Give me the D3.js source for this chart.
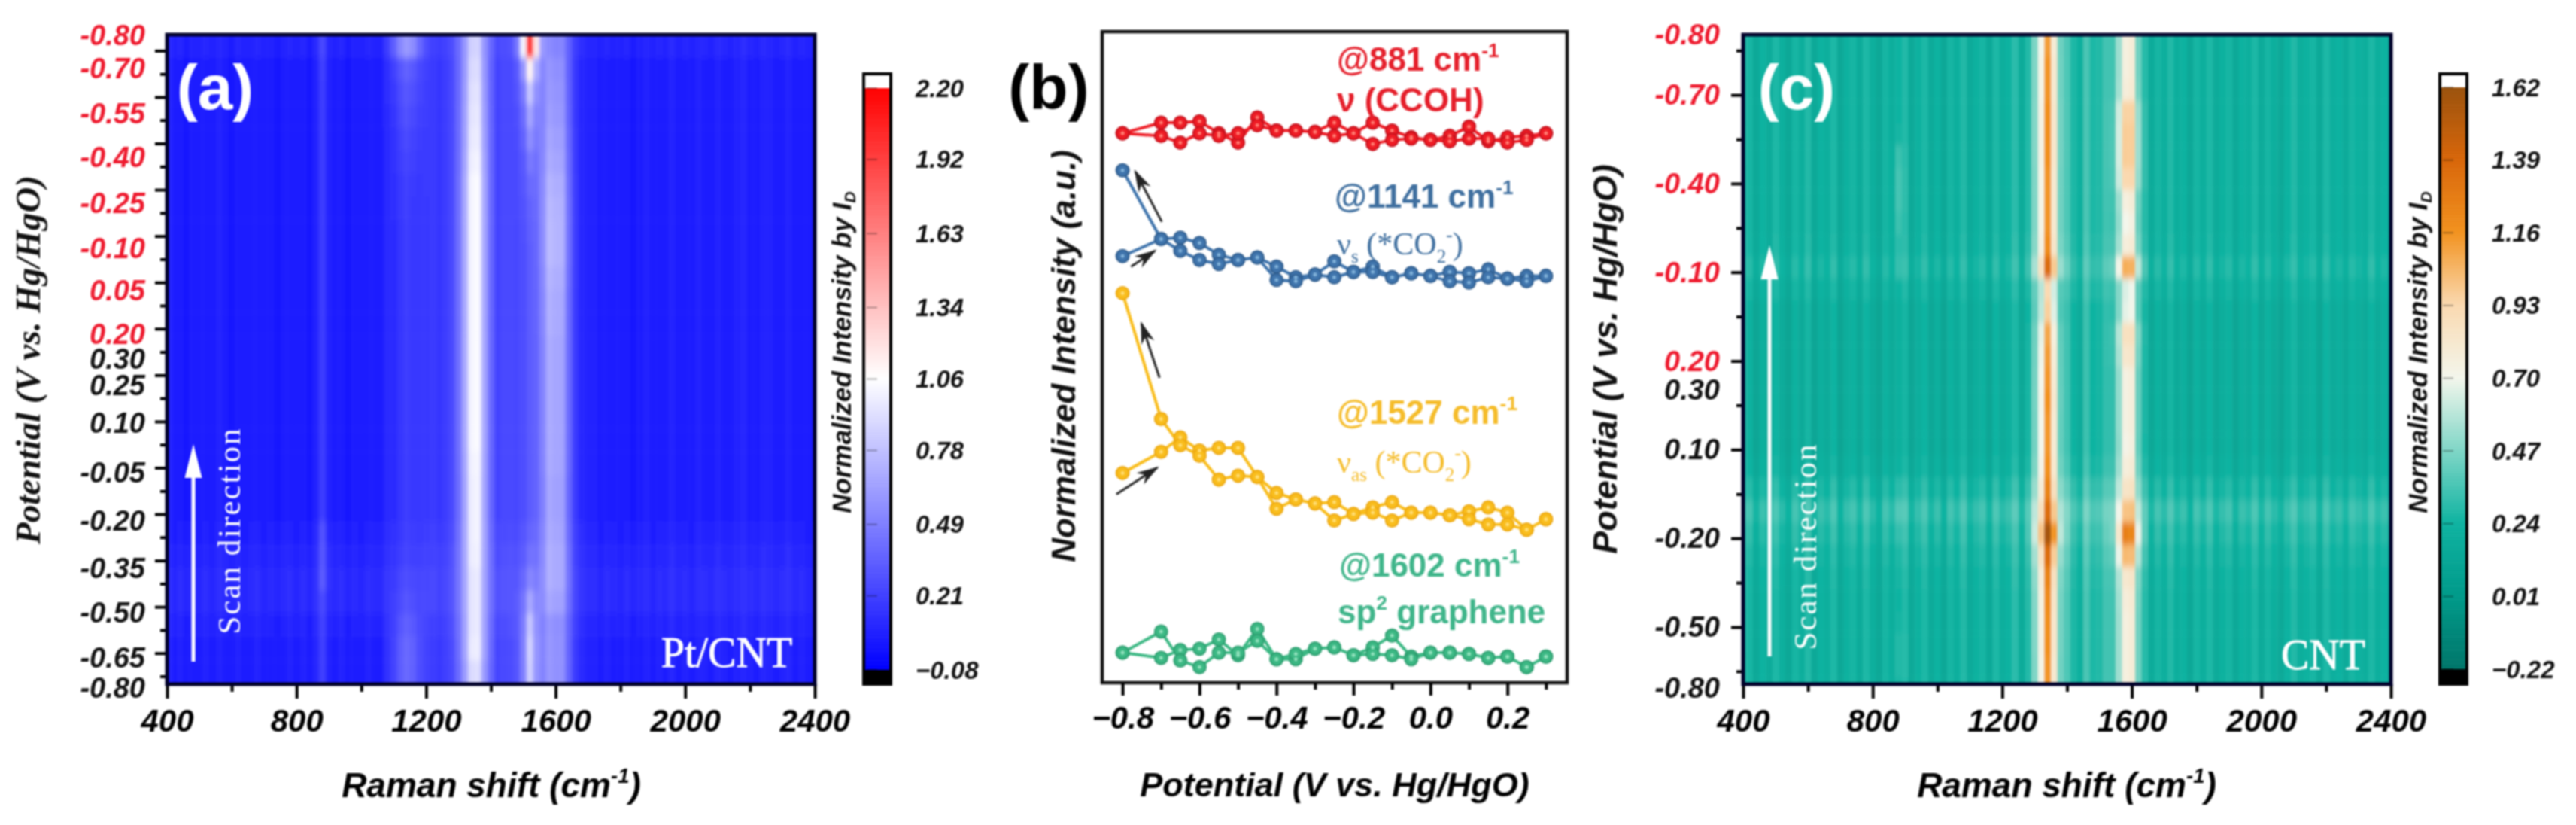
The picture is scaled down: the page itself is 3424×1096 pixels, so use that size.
<!DOCTYPE html>
<html>
<head>
<meta charset="utf-8">
<script src="https://cdn.jsdelivr.net/npm/d3@7"></script>
<style>
  html, body { margin: 0; background: #fff; }
  svg { display: block; filter: blur(0.9px); }
  text { font-family: "Liberation Sans", sans-serif; }
</style>
</head>
<body>
<script>
//----------
// Data
//----------

// panel (a) y axis: labels sit a little off the ticks, so they keep their own scan index
var labelsA = ["-0.80","-0.70","-0.55","-0.40","-0.25","-0.10","0.05","0.20","0.30","0.25","0.10","-0.05","-0.20","-0.35","-0.50","-0.65","-0.80"];
var labelStepsA = [-0.65,0.78,2.73,4.61,6.59,8.54,10.36,12.24,13.31,14.45,16.07,18.21,20.29,22.34,24.25,26.2,27.5];
var redCountA = 8;
var labelsC = ["-0.80","-0.70","-0.40","-0.10","0.20","0.30","0.10","-0.20","-0.50","-0.80"];
var labelStepsC = [-1.36,0,2,4,6,6.66,8,10,12,13.38];
var redCountC = 5;

var ramanTicks = [400,800,1200,1600,2000,2400];
var ramanMinor = [600,1000,1400,1800,2200];
var cbarTicksA = [2.20,1.92,1.63,1.34,1.06,0.78,0.49,0.21,-0.08];
var cbarLabelsA = ["2.20","1.92","1.63","1.34","1.06","0.78","0.49","0.21","\u22120.08"];
var cbarTicksC = [1.62,1.39,1.16,0.93,0.70,0.47,0.24,0.01,-0.22];
var cbarLabelsC = ["1.62","1.39","1.16","0.93","0.70","0.47","0.24","0.01","\u22120.22"];

// colour maps
var stopsA = [-0.08,1.06,2.2];
var coloursA = ["#0000ff","#ffffff","#ff0000"];
var stopsC = [-0.22,0.01,0.24,0.47,0.70,0.93,1.16,1.39,1.62];
var coloursC = ["#00766a","#009a8a","#0fb3a1","#7fd6c6","#f3f6ec","#fad9b0","#f2921f","#d8660a","#9a520d"];

// band shapes, wavenumber against fraction of the band height
var w1350 = [1280,1300,1320,1340,1360,1380,1400];
var p1350 = [0.08,0.22,0.55,1,1,0.55,0.18];
var w1527 = [1480,1500,1520,1540,1560];
var p1527 = [0.1,0.4,1,0.45,0.1];
var w1600 = [1540,1560,1580,1600,1620,1640,1660];
var p1600 = [0.2,0.6,1,1,0.95,0.4,0.1];
var w1141 = [1080,1100,1120,1140,1160,1180,1200];
var p1141 = [0.15,0.5,0.85,1,0.9,0.5,0.15];
var w881 = [860,880,900];
var p881 = [0.2,1,0.2];
var wBroadA = [1060,1080,1100,1120,1140,1160,1180,1200,1220,1240,1260,1280,1300,1320,1340,1360,1380,1400,1420,1440,1460,1480,1500,1520,1540,1560,1580,1600,1620,1640,1660,1680,1700];
var pBroadA = [0.02,0.04,0.06,0.08,0.1,0.1,0.12,0.12,0.12,0.12,0.14,0.16,0.18,0.2,0.2,0.2,0.2,0.2,0.18,0.18,0.2,0.2,0.2,0.2,0.2,0.2,0.2,0.2,0.2,0.16,0.1,0.05,0.02];
var wD = [1280,1300,1320,1340,1360,1380,1400];
var pD = [0.07,0.25,0.6,1,0.75,0.25,0.08];
var wG = [1520,1540,1560,1580,1600,1620,1640];
var pG = [0.04,0.12,0.5,1,0.85,0.4,0.1];
var wBroadC = [1400,1420,1440,1460,1480,1500,1520,1540];
var pBroadC = [0.05,0.07,0.04,0.09,0.05,0.09,0.07,0.07];

// panel (a) row heights, top row first, one row per tick step
var amp1350A = [.58,.65,.68,.7,.72,.75,.78,.78,.78,.78,.78,.78,.78,.78,.78,.78,.78,.78,.76,.75,.75,.73,.7,.65,.65,.68,.72,.65];
var amp1527A = [1.85,.85,.55,.4,.3,.2,.14,.1,.08,.07,.07,.07,.07,.07,.07,.07,.07,.07,.07,.07,.07,.09,.13,.2,.35,.52,.6,.58];
var amp1600A = [.25,.33,.35,.37,.4,.43,.47,.49,.5,.5,.47,.45,.45,.43,.43,.43,.43,.43,.43,.41,.41,.41,.41,.39,.35,.3,.33,.33];
var amp1141A = [.42,.2,.15,.12,.09,.07,.05,.04,.03,.03,.03,.03,.03,.03,.03,.03,.03,.03,.03,.03,.03,.03,.03,.05,.08,.16,.22,.22];
var amp881A = [.14,.14,.12,.12,.12,.12,.12,.12,.12,.12,.12,.12,.12,.12,.12,.12,.12,.12,.12,.12,.12,.2,.2,.2,.12,.12,.12,.12];
var bgA = [.06,.03,.03,.03,.03,.03,.03,.03,.03,.03,.03,.03,.03,.03,.03,.03,.03,.03,.03,.03,.03,.05,.07,.09,.09,.06,.04,.04];

// panel (c) row heights, top row first, two rows per tick step
var ampDC = [.85,.88,.88,.9,.9,.9,.88,.88,.88,.9,1.05,.65,.72,.85,.88,.9,.92,.9,.9,.9,.92,.98,1.25,1.05,.95,.92,.9,.9,.88,.88];
var ampGC = [.6,.6,.62,.8,.82,.82,.78,.6,.55,.6,.88,.5,.55,.75,.7,.62,.62,.62,.6,.62,.65,.75,1.05,.85,.65,.62,.6,.6,.6,.6];
var bgC = [.17,.17,.17,.17,.17,.17,.17,.17,.17,.18,.21,.17,.14,.14,.14,.14,.14,.14,.14,.16,.21,.27,.23,.2,.18,.17,.17,.17,.17,.17];
var streakC = [.01,.01,.01,.01,.02,.1,.12,.12,.1,.06,.05,.01,.01,.01,.01,.01,.01,.01,.01,.01,.03,.05,.03,.01,.01,.01,.02,.05,.05,.02];

// fine vertical stripes, one value per 20 cm-1 column from 400 to 2400
var rippleA = [.02,.01,.03,0,.02,.01,.03,.01,.04,.02,0,.03,.01,.02,.03,.01,.02,0,.02,.03,.01,.03,0,.02,.04,.01,.02,.03,0,.02,.01,.03,.02,0,.03,.01,.02,.03,.01,0,.02,.03,.01,.02,0,.03,.02,.01,.03,0,.02,.01,.03,.02,0,.01,.03,.02,.01,.03,0,.02,.03,.01,.02,.02,.04,.01,.03,.02,.01,.03,0,.02,.04,.01,.03,.02,.05,.02,.03,.01,.04,.03,.02,.05,.03,.02,.04,.06,.03,.02,.05,.04,.02,.03,.05,.02,.03,.01,.02];
var rippleC = [.03,.08,-.02,.06,.0,.1,.03,-.03,.08,.02,.11,-.02,.06,.03,.1,-.03,.05,.08,.0,.1,.03,-.03,.08,.02,.06,.11,-.02,.05,.1,.0,.06,-.03,.08,.03,.11,.0,.05,.08,-.02,.1,.03,.06,.13,.0,.05,.08,.02,.1,-.02,.05,.08,.03,.0,.1,.05,.02,.08,.03,.06,-.02,.1,.03,.06,.0,.08,.03,.11,.02,.06,-.03,.08,.03,.1,.0,.05,.08,-.02,.06,.03,.1,.0,.08,.03,-.02,.06,.11,.02,.05,.08,-.02,.1,.03,.06,.0,.08,.05,.02,.1,.03,.06,.02];

// panel (b), relative intensity at each potential; sweep out and sweep back
var potentials = [-0.8,-0.7,-0.65,-0.6,-0.55,-0.5,-0.45,-0.4,-0.35,-0.3,-0.25,-0.2,-0.15,-0.1,-0.05,0,0.05,0.1,0.15,0.2,0.25,0.3];
var redOut = [2080,2120,2120,2125,2080,2045,2140,2090,2090,2085,2120,2080,2120,2090,2065,2055,2070,2105,2050,2065,2070,2080];
var redBack = [2080,2070,2045,2080,2070,2080,2110,2090,2090,2085,2070,2080,2040,2055,2060,2055,2050,2060,2060,2045,2055,2080];
var blueOut = [1615,1680,1685,1665,1620,1600,1610,1575,1535,1545,1595,1555,1575,1535,1550,1540,1555,1550,1565,1530,1540,1540];
var blueBack = [1940,1680,1635,1600,1585,1600,1610,1525,1520,1545,1535,1555,1555,1535,1550,1540,1520,1515,1535,1530,1520,1540];
var yellowOut = [794,874,929,879,889,889,779,719,694,679,684,639,664,684,644,644,634,649,664,644,579,619];
var yellowBack = [1475,999,899,859,769,784,779,659,694,679,614,639,644,614,644,644,634,619,599,599,579,619];
var greenOut = [114,94,124,129,164,104,204,89,89,129,134,104,134,179,99,114,114,109,94,99,59,99];
var greenBack = [114,194,84,59,114,114,159,89,109,129,134,104,109,104,89,114,114,109,94,99,59,99];
var potentialTicks = [-0.8,-0.6,-0.4,-0.2,0,0.2];
var potentialMinor = [-0.7,-0.5,-0.3,-0.1,0.1,0.3];

// arrows in panel (b): from potential, from intensity, to potential, to intensity
var arrowsB = [
  [-0.698,1745,-0.767,1935],
  [-0.778,1575,-0.716,1635],
  [-0.704,1155,-0.751,1360],
  [-0.816,714,-0.71,814]
];

//----------
// General
//----------

var W = 3424, H = 1096;
var tickFont = "font:italic bold 38px 'Liberation Sans'";
var xTickFont = "font:italic bold 42px 'Liberation Sans'";
var svg = d3.select("body").append("svg").attr("width", W).attr("height", H);
var defs = svg.append("defs");
var columns = d3.range(400, 2401, 20);

function bandAt(waves, vals, w) {
  var i = waves.indexOf(w);
  return i < 0 ? 0 : vals[i];
}

// parts: [text, "sup" | "sub" | undefined]
function richText(g, x, y, parts, style) {
  var t = g.append("text").attr("x", x).attr("y", y).attr("style", style);
  var shift = 0;
  parts.forEach(function(p) {
    var rise = p[1] === "sup" ? -0.42 : p[1] === "sub" ? 0.25 : 0;
    // dy is in the tspan's own em, small tspans are 60% size
    var own = p[1] ? 0.6 : 1;
    t.append("tspan")
      .attr("dy", ((rise - shift) / own) + "em")
      .attr("font-size", p[1] ? "60%" : null)
      .text(p[0]);
    shift = rise;
  });
  return t;
}

function verticalText(g, x, y, parts, style) {
  var t = richText(g, 0, 0, parts, style);
  t.attr("x", null).attr("y", null).attr("text-anchor", "middle")
    .attr("dominant-baseline", "middle")
    .attr("transform", "translate(" + x + "," + y + ") rotate(-90)");
  return t;
}

function whiteArrow(g, x, y0, y1, headW, headL, lw) {
  g.append("line").attr("x1", x).attr("x2", x).attr("y1", y0).attr("y2", y1 + headL - 4)
    .attr("stroke", "#fff").attr("stroke-width", lw);
  g.append("path")
    .attr("d", d3.line()([[x, y1], [x + headW / 2, y1 + headL], [x - headW / 2, y1 + headL]]) + "Z")
    .attr("fill", "#fff");
}

function styleAxis(g, width) {
  g.selectAll("path").remove();
  g.selectAll("line").attr("stroke", "#000").attr("stroke-width", width);
  g.selectAll("text").attr("style", xTickFont).attr("fill", "#000");
}

//----------
// Heat maps, panels (a) and (c)
//----------

function drawHeatmap(opt) {
  var g = svg.append("g");
  var x = d3.scaleLinear().domain([400, 2400]).range([opt.left, opt.right]);
  var y = d3.scaleLinear().domain(opt.yDomain).range([opt.top, opt.bottom]);
  var colour = d3.scaleLinear().domain(opt.stops).range(opt.colours).clamp(true);

  defs.append("clipPath").attr("id", "clip" + opt.id).append("rect")
    .attr("x", opt.left).attr("y", opt.top)
    .attr("width", opt.right - opt.left).attr("height", opt.bottom - opt.top);
  defs.append("filter").attr("id", "soft" + opt.id)
    .attr("filterUnits", "userSpaceOnUse")
    .attr("x", opt.left - 60).attr("y", opt.top - 100)
    .attr("width", opt.right - opt.left + 120).attr("height", opt.bottom - opt.top + 200)
    .append("feGaussianBlur").attr("stdDeviation", opt.blur);

  var cells = g.append("g").attr("clip-path", "url(#clip" + opt.id + ")")
    .append("g").attr("filter", "url(#soft" + opt.id + ")");

  d3.range(opt.rows).forEach(function(r) {
    var y0 = opt.yDomain[0] + r * opt.rowStep, y1 = y0 + opt.rowStep;
    // outer rows run past the frame so the blur does not fade at the edge
    var top = r === 0 ? y(y0) - 40 : y(y0);
    var bot = r === opt.rows - 1 ? y(y1) + 40 : y(y1);
    cells.selectAll(null).data(columns).enter().append("rect")
      .attr("x", function(w) { return x(w - 10) - (w === 400 ? 40 : 0); })
      .attr("width", function(w) { return x(w + 10) - x(w - 10) + (w === 400 || w === 2400 ? 40 : 0.5); })
      .attr("y", top).attr("height", bot - top + 0.5)
      .attr("fill", function(w, c) { return colour(opt.value(r, w, c)); });
  });

  // axes
  var bottomMinor = d3.axisBottom(x).tickValues(ramanMinor).tickSize(10).tickFormat("");
  var bottomMajor = d3.axisBottom(x).tickValues(ramanTicks).tickSize(19).tickPadding(14).tickFormat(d3.format("d"));
  var ax = g.append("g").attr("transform", "translate(0," + opt.bottom + ")");
  styleAxis(ax.append("g").call(bottomMinor), 4);
  styleAxis(ax.append("g").call(bottomMajor), 4);

  var leftMajor = d3.axisLeft(y).tickValues(opt.majorTicks).tickSize(opt.tickLong).tickFormat("");
  var leftMinor = d3.axisLeft(y).tickValues(opt.minorTicks).tickSize(9).tickFormat("");
  var ay = g.append("g").attr("transform", "translate(" + opt.left + ",0)");
  styleAxis(ay.append("g").call(leftMajor), 4);
  styleAxis(ay.append("g").call(leftMinor), 4);

  g.append("rect").attr("x", opt.left).attr("y", opt.top)
    .attr("width", opt.right - opt.left).attr("height", opt.bottom - opt.top)
    .attr("fill", "none").attr("stroke", "#01012a").attr("stroke-width", 5);

  g.selectAll(".plabel").data(opt.labels).enter().append("text")
    .attr("class", "plabel")
    .attr("x", opt.labelRight).attr("y", function(d, i) { return y(opt.labelSteps[i]); })
    .attr("text-anchor", "end").attr("dominant-baseline", "central")
    .attr("style", tickFont)
    .attr("fill", function(d, i) { return i < opt.redCount ? "#ee1a2e" : "#111"; })
    .text(function(d) { return d; });

  // titles
  richText(g, opt.xTitleX, 1059, [["Raman shift (cm"], ["-1", "sup"], [")"]],
    "font:italic bold 46px 'Liberation Sans'").attr("text-anchor", "middle");
  verticalText(g, opt.yTitleX, opt.yTitleY, [["Potential (V vs. Hg/HgO)"]], opt.yTitleStyle).attr("fill", "#111");

  // white labels on the map
  g.append("text").attr("x", opt.panelX).attr("y", 116).attr("text-anchor", "middle")
    .attr("dominant-baseline", "central").attr("fill", "#fff")
    .attr("style", "font:bold 84px 'Liberation Sans'").text(opt.panel);
  whiteArrow(g, opt.arrowX, opt.arrowY0, opt.arrowY1, 23, 45, 5);
  g.append("text").attr("text-anchor", "middle").attr("dominant-baseline", "central")
    .attr("transform", "translate(" + opt.scanX + "," + opt.scanY + ") rotate(-90)")
    .attr("fill", "#fff").attr("style", "font:43px 'Liberation Serif';letter-spacing:2px")
    .text("Scan direction");
  g.append("text").attr("x", opt.nameX).attr("y", opt.nameY).attr("text-anchor", "middle")
    .attr("dominant-baseline", "central").attr("fill", "#fff").attr("stroke", "#fff").attr("stroke-width", 0.8)
    .attr("style", "font:56px 'Liberation Serif'").text(opt.name);

  // colour bar
  var cy = d3.scaleLinear().domain(opt.cbarDomain).range(opt.cbarRange);
  var lo = opt.stops[0], hi = opt.stops[opt.stops.length - 1], step = (hi - lo) / 300;
  var bar = g.append("g");
  bar.selectAll(null).data(d3.range(lo, hi, step)).enter().append("rect")
    .attr("x", opt.cbarX).attr("width", 36)
    .attr("y", function(v) { return cy(v + step); })
    .attr("height", function(v) { return cy(v) - cy(v + step) + 0.6; })
    .attr("fill", function(v) { return colour(v); });
  bar.append("rect").attr("x", opt.cbarX).attr("width", 36).attr("y", 98).attr("height", cy(hi) - 98).attr("fill", "#fff");
  bar.append("rect").attr("x", opt.cbarX).attr("width", 36).attr("y", cy(lo)).attr("height", 909 - cy(lo)).attr("fill", "#000");
  bar.selectAll(".cm").data(opt.cbarTicks).enter().append("line").attr("class", "cm")
    .attr("x1", opt.cbarX + 4).attr("x2", opt.cbarX + 18)
    .attr("y1", function(v) { return cy(v); }).attr("y2", function(v) { return cy(v); })
    .attr("stroke", "#000").attr("stroke-opacity", 0.3).attr("stroke-width", 2);
  bar.append("rect").attr("x", opt.cbarX).attr("width", 36).attr("y", 98).attr("height", 811)
    .attr("fill", "none").attr("stroke", "#000").attr("stroke-width", 4);
  bar.selectAll(".cl").data(opt.cbarTicks).enter().append("text").attr("class", "cl")
    .attr("x", opt.cbarX + 69).attr("y", function(v) { return cy(v); })
    .attr("dominant-baseline", "central").attr("fill", "#111")
    .attr("style", "font:italic bold 33px 'Liberation Sans'")
    .text(function(v, i) { return opt.cbarLabels[i]; });
  verticalText(g, opt.cbarX - 26, 468, [["Normalized Intensity by "], ["I"], ["D", "sub"]],
    "font:italic bold 35px 'Liberation Sans'").attr("fill", "#111");
}

drawHeatmap({
  id: "A", panel: "(a)", name: "Pt/CNT",
  left: 222, right: 1083, top: 46, bottom: 909,
  yDomain: [-0.695, 27.34], rows: 28, rowStep: 1, blur: "2.2 5",
  stops: stopsA, colours: coloursA,
  value: function(r, w, c) {
    return bgA[r] + rippleA[c]
      + bandAt(wBroadA, pBroadA, w)
      + amp1350A[r] * bandAt(w1350, p1350, w)
      + amp1527A[r] * bandAt(w1527, p1527, w)
      + amp1600A[r] * bandAt(w1600, p1600, w)
      + amp1141A[r] * bandAt(w1141, p1141, w)
      + amp881A[r] * bandAt(w881, p881, w);
  },
  majorTicks: [0,2,4,6,8,10,12,14,16,18,20,22,24,26],
  minorTicks: [1,3,5,7,9,11,13,15,17,19,21,23,25,27],
  tickLong: 16, labels: labelsA, labelSteps: labelStepsA, redCount: redCountA, labelRight: 193,
  xTitleX: 653, yTitleX: 42, yTitleY: 478,
  yTitleStyle: "font:italic bold 47px 'Liberation Serif'",
  panelX: 286, arrowX: 257, arrowY0: 879, arrowY1: 590, scanX: 304, scanY: 705,
  nameX: 966, nameY: 867,
  cbarX: 1148, cbarDomain: [-0.08, 2.2], cbarRange: [890, 117],
  cbarTicks: cbarTicksA, cbarLabels: cbarLabelsA
});

drawHeatmap({
  id: "C", panel: "(c)", name: "CNT",
  left: 2317, right: 3178, top: 46, bottom: 909,
  yDomain: [-1.36, 13.29], rows: 30, rowStep: 0.5, blur: "1.2 5",
  stops: stopsC, colours: coloursC,
  value: function(r, w, c) {
    return bgC[r] + rippleC[c]
      + bandAt(wBroadC, pBroadC, w)
      + ampDC[r] * bandAt(wD, pD, w)
      + ampGC[r] * bandAt(wG, pG, w)
      + streakC[r] * bandAt(w881, p881, w);
  },
  majorTicks: [0,2,4,6,8,10,12],
  minorTicks: [-1,1,3,5,7,9,11,13],
  tickLong: 16, labels: labelsC, labelSteps: labelStepsC, redCount: redCountC, labelRight: 2286,
  xTitleX: 2747, yTitleX: 2137, yTitleY: 477,
  yTitleStyle: "font:italic bold 45px 'Liberation Sans'",
  panelX: 2388, arrowX: 2352, arrowY0: 872, arrowY1: 326, scanX: 2399, scanY: 726,
  nameX: 3088, nameY: 870,
  cbarX: 3243, cbarDomain: [-0.22, 1.62], cbarRange: [889, 116],
  cbarTicks: cbarTicksC, cbarLabels: cbarLabelsC
});

//----------
// Panel (b)
//----------

function drawLines() {
  var g = svg.append("g");
  var left = 1465, right = 2083, top = 42, bottom = 907;
  var x = d3.scaleLinear().domain([-0.853, 0.355]).range([left, right]);
  var y = d3.scaleLinear().domain([0, 2465]).range([bottom, top]);
  var line = d3.line().x(function(d) { return x(d[0]); }).y(function(d) { return y(d[1]); });

  var series = [
    { out: redOut, back: redBack, fill: "#ee1c25", edge: "#c5101c", glow: "#ff7a70" },
    { out: blueOut, back: blueBack, fill: "#3f74ac", edge: "#2f5d8e", glow: "#7fb0d8" },
    { out: yellowOut, back: yellowBack, fill: "#f9bd1d", edge: "#eda912", glow: "#ffdc70" },
    { out: greenOut, back: greenBack, fill: "#3cb884", edge: "#2d9f70", glow: "#8fe0bb" }
  ];

  series.forEach(function(s) {
    var outPts = potentials.map(function(p, i) { return [p, s.out[i]]; });
    var backPts = potentials.map(function(p, i) { return [p, s.back[i]]; }).reverse();
    var pts = outPts.concat(backPts);
    g.append("path").attr("d", line(pts)).attr("fill", "none")
      .attr("stroke", s.fill).attr("stroke-width", 4);
    g.selectAll(null).data(pts).enter().append("circle")
      .attr("cx", function(d) { return x(d[0]); })
      .attr("cy", function(d) { return y(d[1]); })
      .attr("r", 8.5)
      .attr("fill", s.fill).attr("stroke", s.edge).attr("stroke-width", 2);
    g.selectAll(null).data(pts).enter().append("circle")
      .attr("cx", function(d) { return x(d[0]); })
      .attr("cy", function(d) { return y(d[1]); })
      .attr("r", 2.5)
      .attr("fill", s.glow);
  });

  // frame and axis
  g.append("rect").attr("x", left).attr("y", top).attr("width", right - left).attr("height", bottom - top)
    .attr("fill", "none").attr("stroke", "#111").attr("stroke-width", 4.5);
  var ax = g.append("g").attr("transform", "translate(0," + bottom + ")");
  styleAxis(ax.append("g").call(d3.axisBottom(x).tickValues(potentialMinor).tickSize(9).tickFormat("")), 4);
  styleAxis(ax.append("g").call(d3.axisBottom(x).tickValues(potentialTicks).tickSize(17).tickPadding(14)
    .tickFormat(function(d) { return d3.format(".1f")(d).replace("-", "\u2212"); })), 4);

  richText(g, 1774, 1058, [["Potential (V vs. Hg/HgO)"]], "font:italic bold 45px 'Liberation Sans'").attr("text-anchor", "middle");
  verticalText(g, 1417, 473, [["Normalized Intensity (a.u.)"]], "font:italic bold 44px 'Liberation Sans'").attr("fill", "#111");
  g.append("text").attr("x", 1394).attr("y", 116).attr("text-anchor", "middle")
    .attr("dominant-baseline", "central").attr("style", "font:bold 84px 'Liberation Sans'").text("(b)");

  // arrows
  defs.append("marker").attr("id", "head").attr("viewBox", "0 0 10 10")
    .attr("refX", 9).attr("refY", 5).attr("markerWidth", 10).attr("markerHeight", 6).attr("orient", "auto")
    .attr("markerUnits", "strokeWidth").attr("preserveAspectRatio", "none")
    .append("path").attr("d", "M0,0L10,5L0,10L3,5Z").attr("fill", "#222");
  g.selectAll(null).data(arrowsB).enter().append("line")
    .attr("x1", function(d) { return x(d[0]); }).attr("y1", function(d) { return y(d[1]); })
    .attr("x2", function(d) { return x(d[2]); }).attr("y2", function(d) { return y(d[3]); })
    .attr("stroke", "#222").attr("stroke-width", 3).attr("marker-end", "url(#head)");

  // band notes
  var sans = "font:bold 44px 'Liberation Sans';";
  var serif = "font:42px 'Liberation Serif';";
  function note(xp, yp, parts, style, colour) {
    richText(g, xp, yp + 15, parts, style + "fill:" + colour);
  }
  note(1777, 79, [["@881 cm"], ["-1", "sup"]], sans, "#e51f2b");
  note(1777, 133, [["\u03bd (CCOH)"]], sans, "#e51f2b");
  note(1774, 261, [["@1141 cm"], ["-1", "sup"]], sans, "#3f6f9f");
  note(1777, 323, [["\u03bd"], ["s", "sub"], [" (*CO"], ["2", "sub"], ["-", "sup"], [")"]], serif, "#3f6f9f");
  note(1777, 548, [["@1527 cm"], ["-1", "sup"]], sans, "#f5bc2a");
  note(1777, 613, [["\u03bd"], ["as", "sub"], [" (*CO"], ["2", "sub"], ["-", "sup"], [")"]], serif, "#f5bc2a");
  note(1780, 751, [["@1602 cm"], ["-1", "sup"]], sans, "#3fb58a");
  note(1778, 813, [["sp"], ["2", "sup"], [" graphene"]], sans, "#3fb58a");
}

drawLines();
</script>
</body>
</html>
